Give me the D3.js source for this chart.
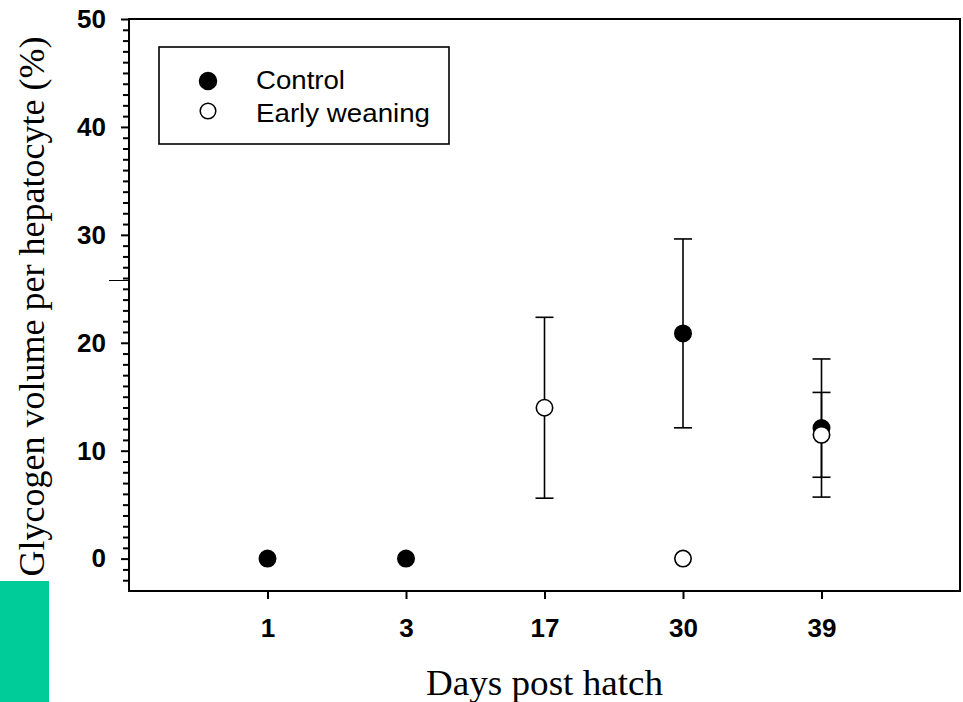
<!DOCTYPE html>
<html><head><meta charset="utf-8">
<script src="https://cdn.jsdelivr.net/npm/d3@7"></script>
<style>html,body{margin:0;padding:0;background:#fff;}svg{display:block;}</style>
</head><body>
<script>
const days = ["1", "3", "17", "30", "39"];
const controlMean = [0, 0, null, 20.87, 12.1];
const controlErr  = [null, null, null, 8.75, 6.4];
const earlyMean   = [null, null, 13.98, 0, 11.47];
const earlyErr    = [null, null, 8.38, null, 3.93];
const yTicks = [0, 10, 20, 30, 40, 50];
const seriesNames = ["Control", "Early weaning"];

const W = 963, H = 702;
const M = {left: 129, right: 960, top: 19, bottom: 591};
const svg = d3.select("body").append("svg").attr("width", W).attr("height", H);

const x = d3.scaleLinear().domain([0, days.length + 1]).range([M.left, M.right]);
const y = d3.scaleLinear().domain([-3, 50]).range([M.bottom, M.top]);
const SANS = "'Liberation Sans', Arial, sans-serif";
const SERIF = "'Liberation Serif', 'Times New Roman', serif";

// green block
svg.append("rect").attr("x", 0).attr("y", 581).attr("width", 49).attr("height", H - 581).attr("fill", "#00cc99");

// stray thin line
svg.append("line").attr("x1", 109).attr("x2", M.left).attr("y1", 280.5).attr("y2", 280.5)
  .attr("stroke", "#000").attr("stroke-width", 1);

// frame
svg.append("rect").attr("x", M.left).attr("y", M.top).attr("width", M.right - M.left).attr("height", M.bottom - M.top)
  .attr("fill", "none").attr("stroke", "#000").attr("stroke-width", 2);

// y axis
const yAxis = d3.axisLeft(y).tickValues(yTicks).tickSize(8).tickPadding(15).tickFormat(d3.format("d"));
const ga = svg.append("g").attr("transform", `translate(${M.left},0)`).call(yAxis);
ga.select(".domain").remove();
ga.selectAll(".tick line").attr("stroke-width", 2);
ga.selectAll(".tick text").attr("font-family", SANS).attr("font-weight", "bold").attr("font-size", 26).attr("fill", "#000");
const minor = d3.range(-2, 50).filter(v => v % 10 !== 0);
const yMinor = d3.axisLeft(y).tickValues(minor).tickSize(6).tickFormat("");
const gm = svg.append("g").attr("transform", `translate(${M.left},0)`).call(yMinor);
gm.select(".domain").remove();
gm.selectAll(".tick line").attr("stroke-width", 2);

// x axis
const xAxis = d3.axisBottom(x).tickValues(d3.range(1, days.length + 1)).tickSize(8).tickPadding(20)
  .tickFormat((d) => days[d - 1]);
const gx = svg.append("g").attr("transform", `translate(0,${M.bottom})`).call(xAxis);
gx.select(".domain").remove();
gx.selectAll(".tick line").attr("stroke-width", 2);
gx.selectAll(".tick text").attr("font-family", SANS).attr("font-weight", "bold").attr("font-size", 26).attr("fill", "#000");

// axis titles
svg.append("text").attr("x", (M.left + M.right) / 2).attr("y", 695).attr("text-anchor", "middle")
  .attr("font-family", SERIF).attr("font-size", 35).attr("textLength", 237).attr("lengthAdjust", "spacingAndGlyphs")
  .text("Days post hatch");
svg.append("text").attr("transform", "translate(44,306.5) rotate(-90)").attr("text-anchor", "middle")
  .attr("font-family", SERIF).attr("font-size", 36).text("Glycogen volume per hepatocyte (%)");

// error bars + markers
function drawSeries(means, errs) {
  const g = svg.append("g");
  means.forEach((m, i) => {
    if (m == null) return;
    const cx = x(i + 1);
    const e = errs[i];
    if (e != null) {
      g.append("line").attr("x1", cx).attr("x2", cx).attr("y1", y(m + e)).attr("y2", y(m - e))
        .attr("stroke", "#000").attr("stroke-width", 1.6);
      [m + e, m - e].forEach(v => {
        g.append("line").attr("x1", cx - 9).attr("x2", cx + 9).attr("y1", y(v)).attr("y2", y(v))
          .attr("stroke", "#000").attr("stroke-width", 1.6);
      });
    }
  });
  return g;
}
function drawMarkers(means, filled) {
  const g = svg.append("g");
  means.forEach((m, i) => {
    if (m == null) return;
    g.append("circle").attr("cx", x(i + 1)).attr("cy", y(m)).attr("r", 8.2)
      .attr("fill", filled ? "#000" : "#fff").attr("stroke", "#000").attr("stroke-width", 1.6);
  });
}
drawSeries(controlMean, controlErr);
drawSeries(earlyMean, earlyErr);
drawMarkers(controlMean, true);
drawMarkers(earlyMean, false);

// legend
const lg = svg.append("g");
lg.append("rect").attr("x", 159).attr("y", 47).attr("width", 290).attr("height", 97)
  .attr("fill", "#fff").attr("stroke", "#000").attr("stroke-width", 1.6);
seriesNames.forEach((name, i) => {
  const cy = [81, 111][i];
  lg.append("circle").attr("cx", 208).attr("cy", cy).attr("r", i === 0 ? 8.5 : 7.8)
    .attr("fill", i === 0 ? "#000" : "#fff").attr("stroke", "#000").attr("stroke-width", 1.5);
  lg.append("text").attr("x", 256).attr("y", [88.5, 121.5][i]).attr("font-family", SANS).attr("font-size", 26.5)
    .attr("textLength", [89, 174][i]).attr("lengthAdjust", "spacingAndGlyphs")
    .attr("fill", "#000").text(name);
});
</script>
</body></html>
